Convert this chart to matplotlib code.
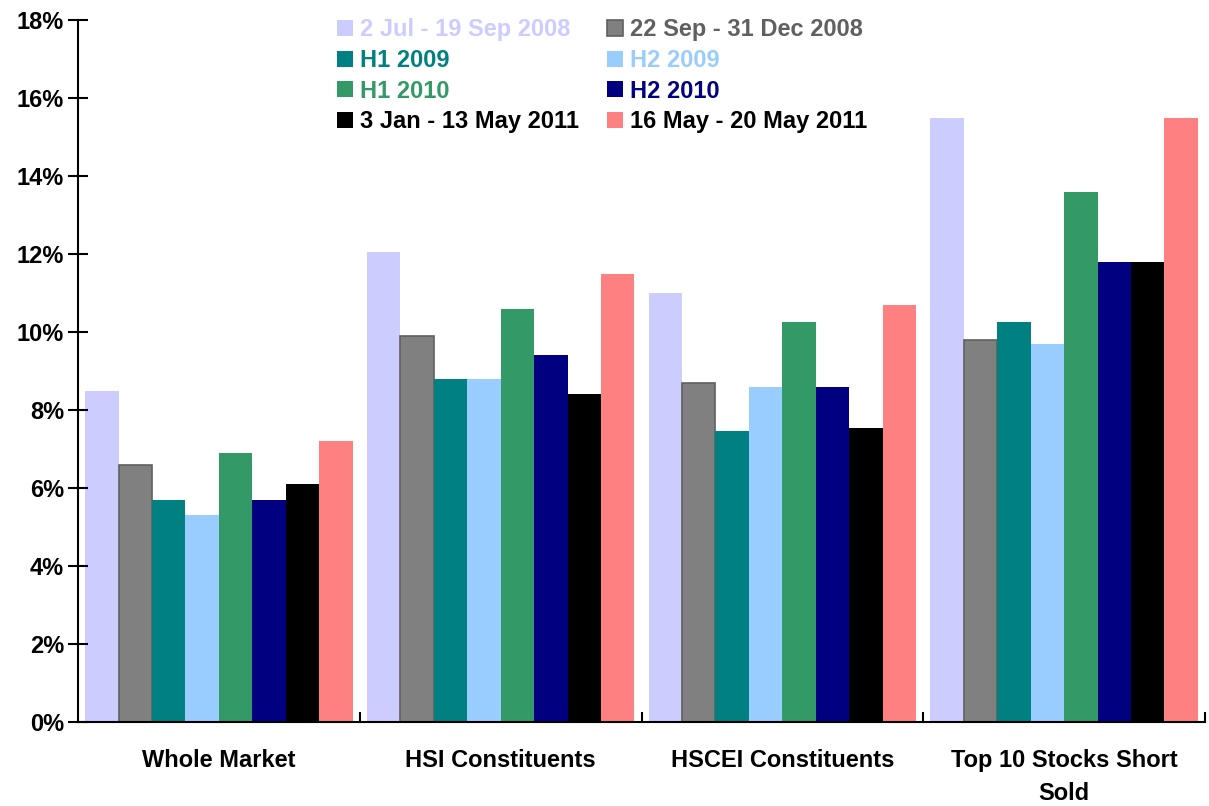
import numpy as np
import matplotlib.pyplot as plt
from matplotlib.ticker import FuncFormatter, FixedLocator

plt.rcParams['font.family'] = ['Liberation Sans', 'DejaVu Sans']
plt.rcParams['font.weight'] = 'bold'

categories = ["Whole Market", "HSI Constituents", "HSCEI Constituents",
              "Top 10 Stocks Short\nSold"]
periods = ["2 Jul - 19 Sep 2008", "22 Sep - 31 Dec 2008", "H1 2009", "H2 2009",
           "H1 2010", "H2 2010", "3 Jan - 13 May 2011", "16 May - 20 May 2011"]

# short selling share (%) per period, one list per category
whole_market = [8.5, 6.6, 5.7, 5.3, 6.9, 5.7, 6.1, 7.2]
hsi = [12.05, 9.9, 8.8, 8.8, 10.6, 9.4, 8.4, 11.5]
hscei = [11.0, 8.7, 7.45, 8.6, 10.25, 8.6, 7.55, 10.7]
top10 = [15.5, 9.8, 10.25, 9.7, 13.6, 11.8, 11.8, 15.5]

colors = ["#CCCCFF", "#808080", "#008080", "#99CCFF",
          "#339966", "#000080", "#000000", "#FF8080"]
text_colors = ["#CCCCFF", "#606060", "#008080", "#99CCFF",
               "#339966", "#000080", "#000000", "#000000"]

values = np.array([whole_market, hsi, hscei, top10])

fig = plt.figure(figsize=(12.09, 8.06), dpi=100)
ax = fig.add_axes([78 / 1209, 1 - 722 / 806, (1205 - 78) / 1209, (722 - 20) / 806])

n = len(periods)
group_w = 0.95
bw = group_w / n
x0 = np.arange(len(categories)) + 0.5 - group_w / 2

handles = []
for j in range(n):
    ec = "#606060" if j == 1 else colors[j]
    lw = 1.2 if j == 1 else 0
    b = ax.bar(x0 + bw * (j + 0.5), values[:, j], width=bw, color=colors[j],
               edgecolor=ec, linewidth=lw, label=periods[j])
    handles.append(b)

ax.set_xlim(0, len(categories))
ax.set_ylim(0, 18)
ax.yaxis.set_major_locator(FixedLocator(np.arange(0, 19, 2)))
ax.yaxis.set_major_formatter(FuncFormatter(lambda v, p: f"{v:.0f}%"))
ax.tick_params(axis='y', direction='inout', length=14, width=1.5,
               labelsize=17, pad=3)

# group separators on the x axis
ax.set_xticks(np.arange(1, len(categories) + 1))
ax.set_xticklabels([])
ax.tick_params(axis='x', direction='in', length=7, width=1.5)
for i, c in enumerate(categories):
    ax.text(i + 0.5, -0.68, c, ha='center', va='top', fontsize=17,
            fontweight='bold', linespacing=1.6)

ax.spines['top'].set_visible(False)
ax.spines['right'].set_visible(False)
ax.spines['left'].set_linewidth(1.5)
ax.spines['bottom'].set_linewidth(1.5)

# legend ordered row-wise in two columns
order = [0, 2, 4, 6, 1, 3, 5, 7]
leg = ax.legend([handles[k] for k in order], [periods[k] for k in order],
                ncol=2, loc='upper left', bbox_to_anchor=(328 / 1209, 1 - 9 / 806),
                bbox_transform=fig.transFigure, frameon=False,
                prop={'size': 17, 'weight': 'bold'},
                handlelength=0.65, handleheight=0.65, handletextpad=0.3,
                columnspacing=1.2, labelspacing=0.32, borderaxespad=0)
for t, k in zip(leg.get_texts(), order):
    t.set_color(text_colors[k])

fig.savefig("out.png", dpi=100)
